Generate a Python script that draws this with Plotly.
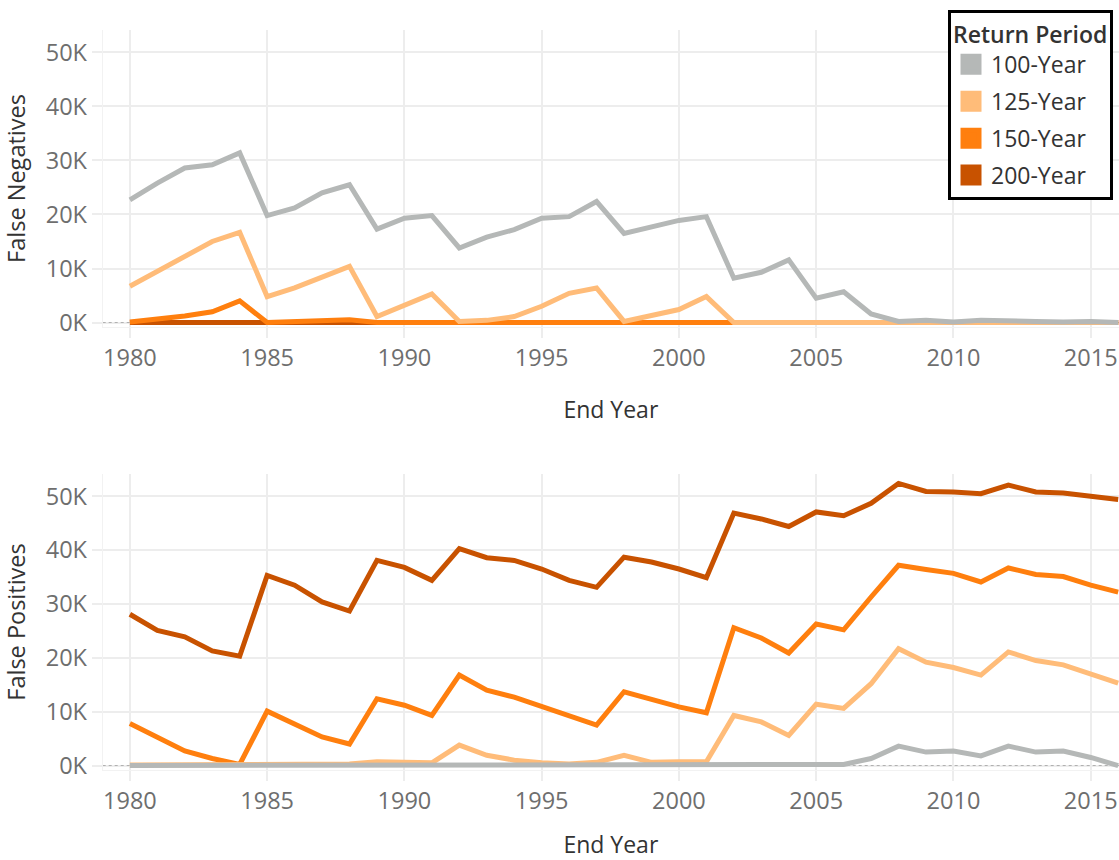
import plotly.graph_objects as go

# ---------------- data ----------------
years = list(range(1980, 2017))
periods = ["100-Year", "125-Year", "150-Year", "200-Year"]
colors = ["#b5b8b7", "#ffbc79", "#ff7f0e", "#c85200"]

fn_100 = [22700, 25800, 28600, 29200, 31400, 19800, 21200, 24000, 25500, 17300,
          19300, 19800, 13800, 15800, 17200, 19300, 19600, 22400, 16500, 17600,
          18900, 19600, 8200, 9300, 11600, 4500, 5700, 1600, 200, 400,
          100, 400, 200, 200, 100, 200, 0]
fn_125 = [6700, 9400, 12100, 15000, 16700, 4800, 6400, 8400, 10400, 1100,
          3300, 5300, 200, 400, 1100, 3000, 5400, 6400, 200, 1200,
          2400, 4800, 0, 0, 0, 0, 0, 0, 0, 0,
          0, 0, 0, 0, 0, 0, 0]
fn_150 = [100, 600, 1200, 2000, 4000, 0, 100, 300, 500, 0,
          0, 0, 0, 0, 0, 0, 0, 0, 0, 0,
          0, 0, 0, 0, 0, 0, 0, 0, 0, 0,
          0, 0, 0, 0, 0, 0, 0]
fn_200 = [0, 0, 0, 0, 0, 0, 0, 0, 0, 0,
          0, 0, 0, 0, 0, 0, 0, 0, 0, 0,
          0, 0, 0, 0, 0, 0, 0, 0, 0, 0,
          0, 0, 0, 0, 0, 0, 0]

fp_100 = [0, 0, 0, 0, 0, 100, 100, 100, 100, 100,
          100, 100, 100, 100, 100, 100, 100, 200, 200, 200,
          200, 200, 200, 200, 100, 100, 200, 1300, 3600, 2500,
          2700, 1800, 3600, 2500, 2700, 1500, 0]
fp_125 = [100, 100, 100, 100, 100, 200, 200, 100, 300, 700,
          500, 500, 3800, 1900, 1000, 500, 300, 600, 1900, 600,
          700, 700, 9300, 8100, 5600, 11400, 10600, 15200, 21700, 19200,
          18200, 16800, 21100, 19500, 18700, 16900, 15300]
fp_150 = [7800, 5300, 2700, 1300, 200, 10100, 7800, 5300, 4000, 12400,
          11200, 9300, 16800, 14000, 12700, 10900, 9300, 7500, 13700, 12200,
          10900, 9800, 25600, 23700, 20900, 26300, 25200, 31300, 37200, 36400,
          35700, 34100, 36700, 35500, 35100, 33500, 32200]
fp_200 = [28100, 25100, 23900, 21300, 20300, 35300, 33500, 30400, 28700, 38100,
          36800, 34400, 40300, 38600, 38100, 36500, 34400, 33100, 38700, 37800,
          36500, 34900, 46900, 45800, 44400, 47100, 46400, 48700, 52400, 50900,
          50800, 50500, 52100, 50800, 50600, 50100, 49400]

x_ticks = [1980, 1985, 1990, 1995, 2000, 2005, 2010, 2015]
y_ticks = [0, 10000, 20000, 30000, 40000, 50000]
y_ticktext = ["0K", "10K", "20K", "30K", "40K", "50K"]

# ---------------- figure ----------------
FONT = "'Open Sans', Lato, sans-serif"
fig = go.Figure()

fn_series = [fn_100, fn_125, fn_150, fn_200]
fp_series = [fp_100, fp_125, fp_150, fp_200]

# draw darkest first so grey ends up on top
for idx in [3, 2, 1, 0]:
    fig.add_trace(go.Scatter(x=years, y=fn_series[idx], mode="lines",
                             line=dict(color=colors[idx], width=5),
                             name=periods[idx], legendgroup=periods[idx],
                             showlegend=False, xaxis="x", yaxis="y"))
for idx in [3, 2, 1, 0]:
    fig.add_trace(go.Scatter(x=years, y=fp_series[idx], mode="lines",
                             line=dict(color=colors[idx], width=5),
                             name=periods[idx], legendgroup=periods[idx],
                             showlegend=False, xaxis="x2", yaxis="y2"))
# legend entries (square swatches)
for idx in range(4):
    fig.add_trace(go.Scatter(x=[None], y=[None], mode="markers",
                             marker=dict(symbol="square", size=16, color=colors[idx],
                                         line=dict(color=colors[idx], width=5)),
                             name=periods[idx], legendgroup=periods[idx],
                             showlegend=True, xaxis="x", yaxis="y"))

W, H = 1119, 860
x_dom = [102.7 / W, 1.0]
top_dom = [1 - 327 / H, 1 - 30 / H]
bot_dom = [1 - 770 / H, 1 - 474 / H]
x_range = [1979.01, 2016.03]
y_range = [-830, 54150]

grid = "#ededed"
tickfont = dict(family=FONT, size=23.5, color="#6e6e6e")
titlefont = dict(family=FONT, size=23, color="#333333")

def xaxis_cfg(anchor):
    return dict(domain=x_dom, range=x_range, anchor=anchor, tickmode="array",
                tickvals=x_ticks, showgrid=True, gridcolor=grid, gridwidth=1.5,
                ticks="outside", ticklen=10, tickcolor=grid, tickwidth=1.5,
                tickfont=tickfont, zeroline=False, showline=True,
                linecolor="#f2f2f2", linewidth=1, automargin=False,
                title=dict(text="End Year", font=titlefont, standoff=29))

def yaxis_cfg(anchor, dom, title):
    return dict(domain=dom, range=y_range, anchor=anchor, tickmode="array",
                tickvals=y_ticks, ticktext=y_ticktext, showgrid=True,
                gridcolor=grid, gridwidth=1.5, ticks="outside", ticklen=10,
                tickcolor=grid, tickwidth=1.5, tickfont=tickfont,
                zeroline=False, showline=True, linecolor="#f2f2f2", linewidth=1,
                automargin=False,
                title=dict(text=title, font=dict(family=FONT, size=23.5, color="#333333"),
                           standoff=14))

zero_line = dict(color="#b0b0b0", width=1, dash="3px,3px")

fig.update_layout(
    width=W, height=H,
    margin=dict(l=0, r=0, t=0, b=0, autoexpand=False),
    paper_bgcolor="white", plot_bgcolor="white",
    font=dict(family=FONT, color="#333333"),
    xaxis=xaxis_cfg("y"),
    yaxis=yaxis_cfg("x", top_dom, "False Negatives"),
    xaxis2=xaxis_cfg("y2"),
    yaxis2=yaxis_cfg("x2", bot_dom, "False Positives"),
    legend=dict(x=1113 / W, xanchor="right", y=1 - 10 / H, yanchor="top",
                bgcolor="white", bordercolor="black", borderwidth=3,
                font=dict(family=FONT, size=23, color="#333333"),
                title=dict(text="Return Period",
                           font=dict(family=FONT, size=23, color="#333333", weight=600)),
                traceorder="grouped", tracegroupgap=4,
                entrywidth=125, entrywidthmode="pixels"),
    showlegend=True,
    shapes=[
        dict(type="line", xref="x", yref="y", x0=x_range[0], x1=x_range[1], y0=0, y1=0,
             line=zero_line, layer="between"),
        dict(type="line", xref="x2", yref="y2", x0=x_range[0], x1=x_range[1], y0=0, y1=0,
             line=zero_line, layer="between"),
    ],
)

fig.write_html("out.html", config={"displayModeBar": False},
               post_script="document.body.style.margin='0';document.body.style.overflow='hidden';")
